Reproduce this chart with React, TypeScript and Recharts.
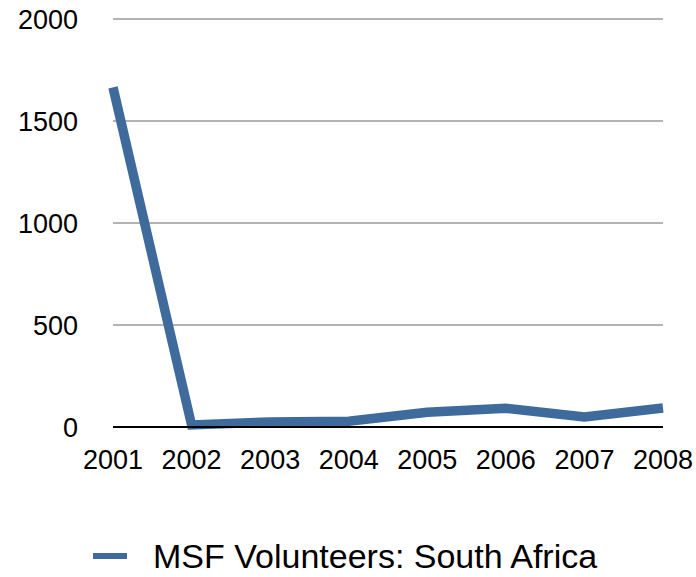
import { LineChart, Line, XAxis, YAxis, CartesianGrid, Legend } from 'recharts';

const years = ['2001', '2002', '2003', '2004', '2005', '2006', '2007', '2008'];
const volunteers = [1665, 10, 25, 28, 72, 92, 49, 93];
const yTicks = [0, 500, 1000, 1500, 2000];

const seriesName = 'MSF Volunteers: South Africa';
const lineColor = '#3e6b9c';
const font = '"Liberation Sans", Arial, Helvetica, sans-serif';

const data = years.map((year, i) => ({ year, value: volunteers[i] }));

function LegendContent() {
  return (
    <div style={{ height: 42, display: 'flex', alignItems: 'center', fontFamily: font }}>
      <svg width={34} height={6} style={{ marginLeft: 93 }}>
        <rect x={0} y={0} width={34} height={6} fill={lineColor} />
      </svg>
      <span style={{ marginLeft: 26, fontSize: 34, color: '#000', lineHeight: '40px' }}>{seriesName}</span>
    </div>
  );
}

export default function App() {
  return (
    <div style={{ position: 'absolute', left: 0, top: 0, background: '#fff' }}>
      <LineChart width={696} height={577} data={data} margin={{ top: 19, right: 33, bottom: 0, left: 0 }}>
        <CartesianGrid vertical={false} stroke="#b3b3b3" strokeWidth={2} />
        <XAxis
          dataKey="year"
          height={108}
          tickLine={false}
          tickSize={0}
          tickMargin={23}
          axisLine={{ stroke: '#000', strokeWidth: 2 }}
          tick={{ fill: '#000', fontSize: 27, fontFamily: font }}
          interval={0}
        />
        <YAxis
          width={113}
          domain={[0, 2000]}
          ticks={yTicks}
          axisLine={false}
          tickLine={false}
          tickSize={0}
          tickMargin={35}
          tick={{ fill: '#000', fontSize: 27, fontFamily: font }}
        />
        <Legend verticalAlign="bottom" align="left" content={<LegendContent />} />
        <Line
          type="linear"
          dataKey="value"
          name={seriesName}
          stroke={lineColor}
          strokeWidth={9.5}
          dot={false}
          activeDot={false}
          isAnimationActive={false}
        />
      </LineChart>
    </div>
  );
}
